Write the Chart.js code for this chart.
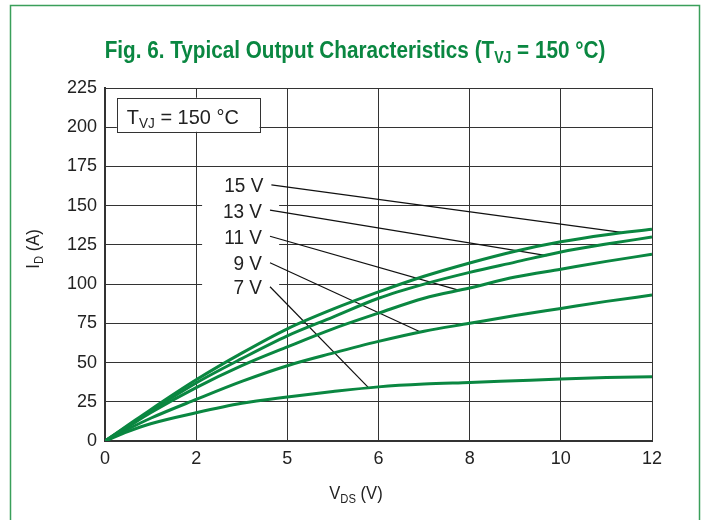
<!DOCTYPE html>
<html>
<head>
<meta charset="utf-8">
<script src="https://cdn.jsdelivr.net/npm/chart.js@4"></script>
<style>
  html, body { margin: 0; padding: 0; background: #fff; }
  #wrap { width: 704px; height: 520px; }
</style>
</head>
<body>
<div id="wrap"><canvas id="chart" width="704" height="520"></canvas></div>
<script>
// V_DS sample points (V)
const vds = [0, 0.5, 1, 2, 3, 4, 5, 6, 7, 8, 9, 10, 11, 12];

// I_D (A) per gate voltage
const id15 = [0, 10, 20, 39, 56, 71.5, 84, 95, 105, 113.5, 121, 127, 131.5, 135];
const id13 = [0, 9.5, 19, 37, 52.5, 67, 79, 91, 100, 107.5, 114, 120.5, 125.5, 130];
const id11 = [0, 9, 18, 34, 48, 60, 71.5, 81.5, 91, 97.5, 104.5, 109.5, 114.5, 119];
const id9 = [0, 7.5, 14.5, 26.5, 38, 48, 56, 63.5, 70, 75, 80, 84.5, 89, 93];
const id7 = [0, 6, 11, 18, 24, 28, 31.5, 34.5, 36.3, 37.3, 38.4, 39.5, 40.4, 41];

const gateLabels = ['15 V', '13 V', '11 V', '9 V', '7 V'];
// leader lines: start (next to label) and end (on the curve), data coords
const leadStart = [[3.65, 163.2], [3.62, 147.1], [3.62, 130.5], [3.62, 113.6], [3.62, 98.3]];
const leadEnd = [[11.33, 133.0], [9.69, 118.1], [7.79, 95.8], [6.91, 69.6], [5.78, 34.0]];

// x tick labels as printed (the original says 5 at the 4 V line)
const xTickLabels = ['0', '2', '5', '6', '8', '10', '12'];

const GREEN = '#0a8741';
const FONT = '"Liberation Sans", Arial, sans-serif';

function pts(ys) {
  return vds.map((x, i) => ({ x: x, y: ys[i] }));
}

// text with subscripts: parts = [[text, isSub], ...]; sx squeezes horizontally
function richText(ctx, parts, x, y, size, align, weight, sx) {
  sx = sx || 1;
  let total = 0;
  parts.forEach(p => {
    ctx.font = weight + ' ' + (p[1] ? size * 0.68 : size) + 'px ' + FONT;
    total += ctx.measureText(p[0]).width;
  });
  total *= sx;
  let cx = align === 'center' ? x - total / 2 : align === 'right' ? x - total : x;
  ctx.save();
  ctx.translate(cx, y);
  ctx.scale(sx, 1);
  ctx.textAlign = 'left';
  ctx.textBaseline = 'alphabetic';
  let ox = 0;
  parts.forEach(p => {
    ctx.font = weight + ' ' + (p[1] ? size * 0.68 : size) + 'px ' + FONT;
    ctx.fillText(p[0], ox, p[1] ? size * 0.22 : 0);
    ox += ctx.measureText(p[0]).width;
  });
  ctx.restore();
}

const decor = {
  id: 'decor',
  beforeDraw(chart) {
    const ctx = chart.ctx;
    ctx.save();
    ctx.fillStyle = '#fff';
    ctx.fillRect(0, 0, chart.width, chart.height);
    ctx.strokeStyle = '#3a9f5a';
    ctx.lineWidth = 1.5;
    ctx.strokeRect(10.5, 5.5, 689, 540);
    ctx.fillStyle = GREEN;
    richText(ctx, [['Fig. 6. Typical Output Characteristics (T', false], ['VJ', true], [' = 150 °C)', false]],
      355, 58, 23, 'center', 'bold', 0.9);
    ctx.fillStyle = '#222';
    richText(ctx, [['V', false], ['DS', true], [' (V)', false]], 356, 499, 18, 'center', 'normal', 0.92);
    ctx.translate(39, 249);
    ctx.rotate(-Math.PI / 2);
    richText(ctx, [['I', false], ['D', true], [' (A)', false]], 0, 0, 18, 'center', 'normal', 0.92);
    ctx.restore();
  },
  beforeDatasetsDraw(chart) {
    const ctx = chart.ctx;
    const xs = chart.scales.x, ys = chart.scales.y;
    ctx.save();
    // temperature box
    const bx0 = xs.getPixelForValue(0.26), bx1 = xs.getPixelForValue(3.39);
    const by0 = ys.getPixelForValue(218.8), by1 = ys.getPixelForValue(197.1);
    ctx.fillStyle = '#fff';
    ctx.fillRect(bx0, by0, bx1 - bx0, by1 - by0);
    ctx.strokeStyle = '#333';
    ctx.lineWidth = 1;
    ctx.strokeRect(Math.round(bx0) + 0.5, Math.round(by0) + 0.5, Math.round(bx1 - bx0), Math.round(by1 - by0));
    ctx.fillStyle = '#222';
    richText(ctx, [['T', false], ['VJ', true], [' = 150 °C', false]], bx0 + 10, by1 - 8, 21, 'left', 'normal', 0.95);
    // gate voltage labels, with the grid cut out behind them
    const gx0 = xs.getPixelForValue(2.13), gx1 = xs.getPixelForValue(3.82);
    gateLabels.forEach((t, i) => {
      const px = xs.getPixelForValue(leadStart[i][0]);
      const py = ys.getPixelForValue(leadStart[i][1]);
      ctx.fillStyle = '#fff';
      ctx.fillRect(gx0, py - 11, gx1 - gx0, 22);
      ctx.fillStyle = '#222';
      richText(ctx, [[t, false]], px - 8, py + 7.5, 20, 'right', 'normal', 0.95);
    });
    ctx.restore();
  }
};

const curveStyle = {
  borderColor: GREEN,
  borderWidth: 3,
  pointRadius: 0,
  fill: false,
  cubicInterpolationMode: 'monotone'
};

const datasets = [id15, id13, id11, id9, id7].map((d, i) =>
  Object.assign({ label: gateLabels[i], data: pts(d) }, curveStyle));

leadStart.forEach((s, i) => {
  datasets.push({
    label: 'lead ' + gateLabels[i],
    data: [{ x: s[0], y: s[1] }, { x: leadEnd[i][0], y: leadEnd[i][1] }],
    borderColor: '#111',
    borderWidth: 1.2,
    pointRadius: 0,
    fill: false
  });
});

new Chart(document.getElementById('chart'), {
  type: 'line',
  data: { datasets: datasets },
  options: {
    responsive: false,
    animation: false,
    events: [],
    layout: { padding: { top: 88, right: 52, left: 0, bottom: 0 } },
    plugins: { legend: { display: false }, tooltip: { enabled: false }, title: { display: false } },
    scales: {
      x: {
        type: 'linear',
        min: 0,
        max: 12,
        ticks: {
          stepSize: 2,
          color: '#222',
          padding: 7,
          font: { family: FONT, size: 18 },
          callback: (v, i) => xTickLabels[i]
        },
        grid: { color: '#333', lineWidth: 1, drawTicks: false },
        border: { color: '#333', width: 2 },
        afterFit: s => { s.height = 79; }
      },
      y: {
        min: 0,
        max: 225,
        ticks: {
          stepSize: 25,
          color: '#222',
          padding: 8,
          font: { family: FONT, size: 18 }
        },
        grid: { color: '#333', lineWidth: 1, drawTicks: false },
        border: { color: '#333', width: 2 },
        afterFit: s => { s.width = 105; }
      }
    }
  },
  plugins: [decor]
});
</script>
</body>
</html>
